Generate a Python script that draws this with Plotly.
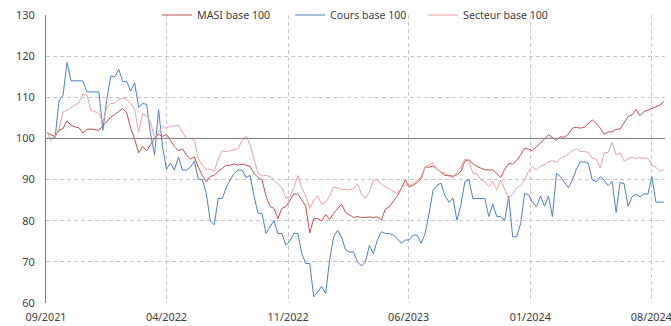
import pandas as pd
import plotly.graph_objects as go

# Weekly observations, base 100 at the start of September 2021
dates = pd.date_range("2021-09-03", periods=156, freq="W-FRI")

masi = [
    101.5, 100.8, 100.5, 102.0, 102.4, 104.3, 103.2, 102.8, 102.6, 101.3,
    102.2, 102.3, 102.1, 102.0, 103.0, 104.0, 105.2, 105.8, 106.5, 107.3,
    106.2, 102.5, 99.8, 96.5, 98.0, 97.0, 98.5, 100.0, 101.0, 100.5,
    101.0, 99.5, 98.0, 97.0, 97.5, 96.0, 95.0, 95.5, 93.0, 91.0,
    89.5, 90.8, 91.0, 92.0, 92.8, 93.5, 93.5, 93.8, 93.5, 93.8,
    93.5, 93.2, 91.5, 90.5, 90.0, 86.0, 83.5, 83.0, 80.5, 83.0,
    83.4, 85.0, 86.5, 86.5, 85.0, 83.5, 77.0, 80.5, 80.5, 80.0,
    81.5, 80.3, 81.8, 82.8, 84.0, 82.0, 81.5, 80.8, 81.0, 80.8,
    80.8, 80.9, 80.8, 80.9, 80.2, 82.8, 83.4, 84.7, 86.0, 87.8,
    89.9, 88.2, 88.6, 89.3, 90.2, 93.1, 93.0, 93.3, 92.5, 91.9,
    91.0, 91.0, 90.8, 91.2, 92.0, 94.5, 94.8, 93.9, 93.2, 92.8,
    92.4, 92.3, 92.4, 91.5, 90.5, 92.5, 93.9, 93.8, 94.6, 96.0,
    97.6, 97.4, 97.0, 98.0, 98.8, 99.8, 100.9, 100.3, 99.5, 100.4,
    100.3, 101.0, 102.5, 102.7, 102.5, 102.7, 103.5, 104.5, 103.7, 102.5,
    101.0, 101.6, 101.6, 102.2, 102.3, 103.8, 105.3, 105.7, 107.0, 105.5,
    106.5, 106.9, 107.3, 107.8, 108.1, 109.0,
]

cours = [
    100.0, 100.0, 100.2, 109.2, 110.5, 118.5, 114.0, 114.0, 114.0, 114.0,
    111.3, 111.3, 111.3, 111.3, 102.0, 109.5, 115.2, 115.0, 116.8, 113.8,
    113.8, 111.5, 113.5, 107.5, 108.5, 108.3, 101.0, 96.0, 107.0, 98.0,
    92.5, 94.0, 92.3, 95.5, 92.3, 92.3, 93.0, 94.5, 90.0, 90.0,
    86.6, 80.0, 79.0, 85.4, 85.4, 88.0, 89.9, 91.5, 92.3, 92.3,
    90.5, 91.0, 86.0, 81.8, 81.8, 76.9, 78.5, 80.0, 76.9, 76.9,
    74.1, 75.0, 76.9, 76.9, 72.0, 69.6, 69.6, 61.5, 62.7, 64.0,
    62.3, 70.5, 76.0, 77.7, 76.0, 72.9, 72.4, 72.4, 70.0, 69.0,
    70.0, 74.0, 72.0, 75.3, 77.3, 76.9, 76.9, 76.5, 75.7, 74.5,
    75.3, 75.3, 76.5, 76.5, 74.5, 76.9, 81.8, 87.4, 88.7, 89.1,
    86.0, 84.5, 85.5, 80.1, 84.0, 89.5, 90.0, 85.4, 85.4, 85.4,
    85.4, 81.0, 84.0, 81.0, 81.0, 80.0, 86.0, 76.1, 76.1, 79.3,
    86.6, 86.3, 84.5, 83.4, 86.0, 83.5, 86.0, 81.0, 91.5, 90.7,
    89.2, 88.0, 89.9, 92.5, 94.3, 94.3, 94.0, 89.9, 89.5, 90.7,
    89.9, 88.5, 89.5, 82.0, 89.3, 89.0, 83.5, 85.8, 86.5, 85.8,
    86.5, 86.5, 90.7, 84.5, 84.5, 84.5,
]

secteur = [
    101.5, 99.5, 100.5, 102.5, 106.5, 106.8, 107.5, 108.0, 108.7, 110.8,
    110.5, 106.8, 106.5, 106.0, 104.0, 107.5, 108.5, 108.5, 109.5, 109.8,
    109.5, 108.5, 107.0, 101.5, 106.0, 105.5, 104.0, 100.0, 101.5, 103.0,
    102.5, 103.0, 103.0, 103.2, 101.5, 100.0, 100.0, 99.5, 95.0, 93.5,
    92.5, 92.5, 92.0, 95.0, 97.0, 96.8, 97.0, 97.3, 97.5, 99.5,
    100.5, 98.5, 95.0, 91.5, 90.9, 91.0, 90.7, 90.0, 89.0, 88.0,
    85.5, 85.8, 88.0, 91.0, 88.0, 86.0, 83.0, 85.0, 86.0, 84.0,
    84.5, 86.0, 88.2, 88.0, 87.6, 87.6, 87.4, 87.8, 89.0, 86.5,
    85.4, 87.0, 89.9, 89.9, 88.8, 88.2, 87.8, 87.2, 86.6, 88.0,
    88.7, 88.5, 89.2, 89.7, 90.7, 93.1, 93.5, 94.0, 92.5, 91.8,
    91.7, 90.7, 90.5, 91.9, 93.1, 95.0, 94.5, 91.5, 91.5, 90.0,
    89.5, 88.3, 89.5, 87.5, 89.9, 87.5, 85.4, 86.5, 88.0, 88.5,
    90.0, 92.0, 93.2, 92.3, 93.3, 93.6, 94.3, 94.6, 94.2, 95.1,
    95.6, 96.2, 97.0, 97.5, 96.8, 96.8, 96.6, 95.2, 95.0, 92.8,
    96.5, 96.6, 99.0, 96.0, 96.5, 94.5, 95.0, 95.5, 95.1, 95.3,
    95.2, 95.2, 93.5, 93.0, 92.0, 92.5,
]

tick_dates = ["2021-09-01", "2022-04-01", "2022-11-01", "2023-06-01", "2024-01-01", "2024-08-01"]
tick_labels = ["09/2021", "04/2022", "11/2022", "06/2023", "01/2024", "08/2024"]
y_ticks = [60, 70, 80, 90, 100, 110, 120, 130]

FONT = "Noto Sans"
TEXT = "#404040"
GRID = "#C8C8C8"

fig = go.Figure()
fig.add_trace(go.Scatter(x=dates, y=masi, name="MASI base 100", mode="lines",
                         line=dict(color="#C0504D", width=1)))
fig.add_trace(go.Scatter(x=dates, y=cours, name="Cours base 100", mode="lines",
                         line=dict(color="#4F81BD", width=1)))
fig.add_trace(go.Scatter(x=dates, y=secteur, name="Secteur base 100", mode="lines",
                         line=dict(color="#E8A3A0", width=1)))

# reference level at 100
fig.add_shape(type="line", xref="paper", yref="y", x0=0, x1=1, y0=100, y1=100,
              line=dict(color="#7F7F7F", width=1), layer="above")

fig.update_layout(
    width=671, height=326,
    margin=dict(l=46, r=6, t=15, b=23, autoexpand=False),
    paper_bgcolor="white", plot_bgcolor="white",
    font=dict(family=FONT, size=11, color=TEXT),
    showlegend=True,
    legend=dict(orientation="h", x=0.1795, xanchor="left", y=1.0, yanchor="middle",
                bgcolor="rgba(0,0,0,0)", font=dict(size=10.6, color=TEXT),
                entrywidth=88, entrywidthmode="pixels",
                itemwidth=30, tracegroupgap=0),
)
fig.update_xaxes(
    type="date", range=["2021-09-01", "2024-08-25"],
    tickvals=tick_dates, ticktext=tick_labels,
    showgrid=True, gridcolor=GRID, griddash="4px,3px", gridwidth=1,
    showline=False, zeroline=False, ticks="", ticklabelstandoff=6,
    ticklabeloverflow="allow",
    tickfont=dict(family=FONT, size=10.8, color=TEXT),
)
fig.update_yaxes(
    range=[60, 130], tickvals=y_ticks,
    showgrid=True, gridcolor=GRID, griddash="4px,3px", gridwidth=1,
    showline=True, linecolor="#7F7F7F", linewidth=1, zeroline=False,
    ticks="", ticklabelstandoff=8,
    tickfont=dict(family=FONT, size=11, color=TEXT),
)

fig.write_html("out.html")
